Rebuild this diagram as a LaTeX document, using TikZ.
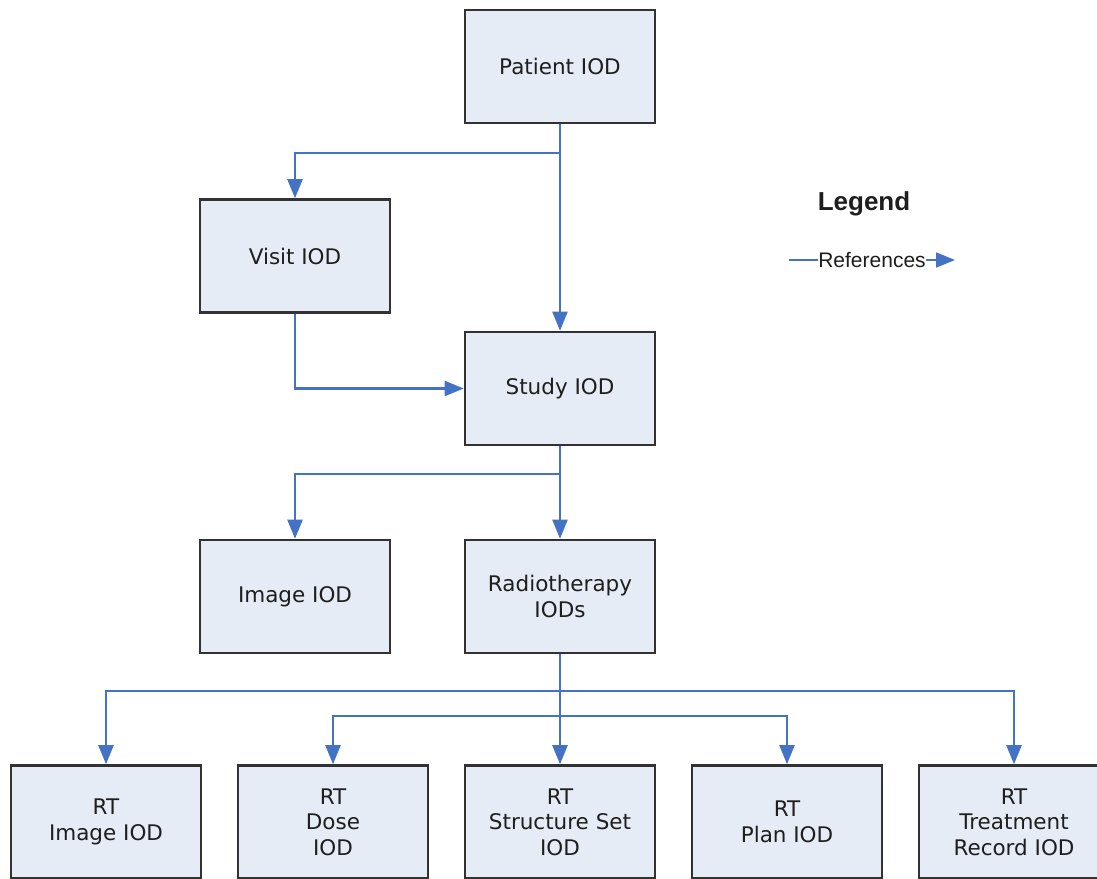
\documentclass[tikz,border=0pt]{standalone}
\usepackage{fontspec}
\setmainfont{DejaVu Sans}
\newfontfamily\legendfont{Liberation Sans}
\usetikzlibrary{arrows.meta}
\definecolor{boxfill}{RGB}{230,236,246}
\definecolor{boxline}{RGB}{50,50,50}
\definecolor{refblue}{RGB}{68,114,196}
\definecolor{txt}{RGB}{30,30,30}
\tikzset{
  iod/.style={draw=boxline, line width=2.6pt, fill=boxfill, minimum width=190pt, minimum height=113pt,
    align=center, text=txt, font=\fontsize{21.5}{25.5}\selectfont, inner sep=0pt},
  ref/.style={draw=refblue, line width=2.2pt, -{Triangle[length=19pt,width=15pt]}},
}
\begin{document}
\begin{tikzpicture}[x=1pt,y=-1pt]
\clip (0,0) rectangle (1097,878);
\fill[white] (0,0) rectangle (1097,878);

\node[iod] (patient) at (560,66.5) {Patient IOD};
\node[iod] (visit) at (295,256) {Visit IOD};
\node[iod] (study) at (560,388.5) {Study IOD};
\node[iod] (image) at (295,596.5) {Image IOD};
\node[iod] (radio) at (560,596.5) {Radiotherapy\\IODs};
\node[iod] (rtimage) at (106,822) {RT\\Image IOD};
\node[iod] (rtdose) at (333,822) {RT\\Dose\\IOD};
\node[iod] (rtss) at (560,822) {RT\\Structure Set\\IOD};
\node[iod] (rtplan) at (787,822) {RT\\Plan IOD};
\node[iod] (rttr) at (1014,822) {RT\\Treatment\\Record IOD};

\draw[ref] (patient.south) -- (study.north);
\draw[ref] (patient.south) -- ++(0,29) -| (visit.north);
\draw[ref] (visit.south) |- (study.west);
\draw[ref] (study.south) -- (radio.north);
\draw[ref] (study.south) -- ++(0,28) -| (image.north);
\draw[ref] (radio.south) -- (rtss.north);
\draw[ref] (radio.south) -- ++(0,37) -| (rtimage.north);
\draw[ref] (radio.south) -- ++(0,37) -| (rttr.north);
\draw[ref] (radio.south) -- ++(0,62) -| (rtdose.north);
\draw[ref] (radio.south) -- ++(0,62) -| (rtplan.north);

\node[font=\legendfont\bfseries\fontsize{26}{28}\selectfont, text=txt] (legend) at (864,204) {Legend};
\coordinate (legA) at (789,260);
\coordinate (legB) at (955,260);
\draw[ref, line width=1.6pt] (legA) -- node[fill=white, inner sep=0pt, text=txt, font=\legendfont\fontsize{21}{24}\selectfont] (legtext) {References} (legB);
\end{tikzpicture}
\end{document}
